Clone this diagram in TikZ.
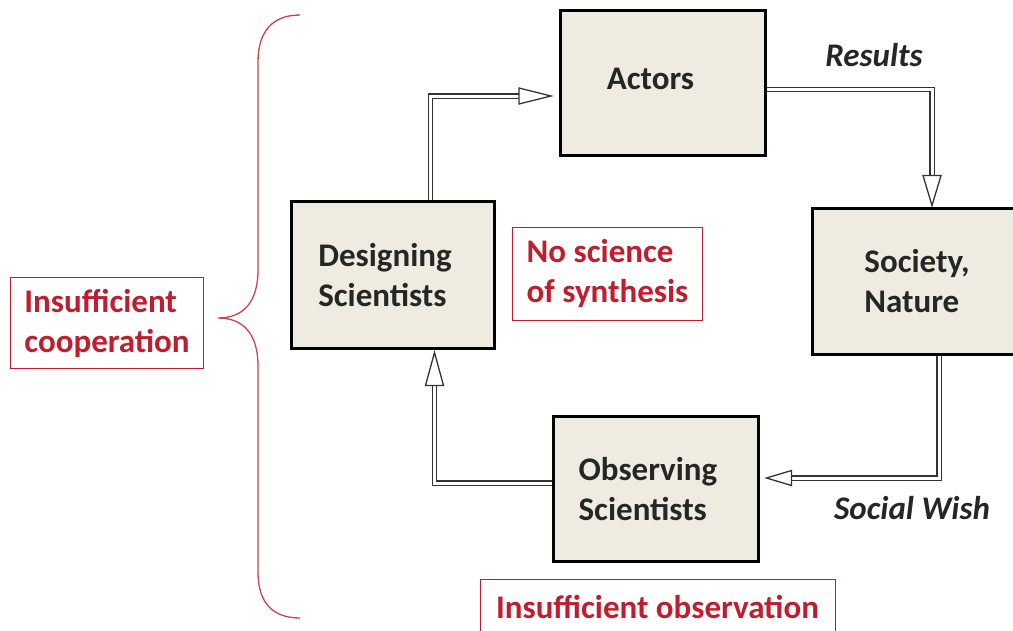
\documentclass[tikz,border=0pt]{standalone}
\usepackage{fontspec}
\setmainfont{Carlito}
\usetikzlibrary{calc}
\definecolor{boxfill}{RGB}{238,236,225}
\definecolor{myred}{RGB}{190,30,45}
\definecolor{bracered}{RGB}{200,70,75}
\begin{document}
\begin{tikzpicture}[x=1pt,y=-1pt,
  mainbox/.style={draw=black,line width=3pt,fill=boxfill,minimum width=205pt,minimum height=145pt,inner sep=0pt,align=left,
    font=\bfseries\fontsize{33}{40}\selectfont,text=black!85},
  redbox/.style={draw=myred,line width=1pt,inner sep=0pt,align=left,text=myred,font=\bfseries\fontsize{33}{40}\selectfont},
  flow/.style={font=\bfseries\itshape\fontsize{33}{40}\selectfont,text=black!85},
  dbl/.style={draw=black!80,line width=1.3pt,double=white,double distance=3pt},
  headtip/.style={draw=black!80,line width=1.3pt,fill=white,line join=miter}]
\useasboundingbox (0,0) rectangle (1013,630);
\clip (0,0) rectangle (1013,630);
% boxes
\node[mainbox] (act) at (662.5,83) {\raisebox{8pt}{Actors}\hspace{24pt}};
\node[mainbox,minimum width=203pt,minimum height=147pt] (des) at (393,275) {Designing\kern16pt\\Scientists};
\node[mainbox,minimum width=210pt,minimum height=146pt] (soc) at (917,281.5) {Society,\\Nature};
\node[mainbox] (obs) at (656,489) {Observing\kern16pt\\Scientists};
% red label boxes
\node[redbox,minimum width=190pt,minimum height=93pt] (syn) at (607.5,274) {No science\\of synthesis};
\node[redbox,minimum width=193pt,minimum height=91pt] (coop) at (107,323) {Insufficient\\cooperation};
\node[redbox,minimum width=355pt,minimum height=57pt] (obsv) at (657.5,607.5) {Insufficient observation};
% flow labels
\node[flow] (res) at (874,55) {Results};
\node[flow] (wish) at (912,508) {Social Wish};
% arrows
\draw[dbl] ($(des.north)+(37.5,0)$) |- ($(act.west)+(-39.5,13)$);
\draw[headtip] ($(act.west)+(-7.5,13)$) -- ++(-32,-8) -- ++(0,16) -- cycle;
\draw[dbl] ($(act.east)+(0,6.5)$) -| ($(soc.north)+(15,-31)$);
\draw[headtip] ($(soc.north)+(15,-1.5)$) -- ++(-9,-30) -- ++(18,0) -- cycle;
\draw[dbl] ($(soc.south)+(22,0)$) |- ($(obs.east)+(31.5,-11)$);
\draw[headtip] ($(obs.east)+(6.5,-11)$) -- ++(25,-7.5) -- ++(0,15) -- cycle;
\draw[dbl] ($(obs.west)+(0,-6)$) -| ($(des.south)+(41.5,35.5)$);
\draw[headtip] ($(des.south)+(41.5,2.5)$) -- ++(-9,33) -- ++(18,0) -- cycle;
% brace
\coordinate (btop) at (300,15);
\coordinate (bbot) at (300,618);
\draw[bracered,line width=1.3pt] (btop) .. controls (272,15) and (258,32) .. (258,62) -- (258,270)
  .. controls (258,300) and (245,318) .. ($(coop.east)+(14,-5)$)
  .. controls (245,318) and (258,336) .. (258,366) -- (258,572)
  .. controls (258,602) and (272,618) .. (bbot);
\end{tikzpicture}
\end{document}
